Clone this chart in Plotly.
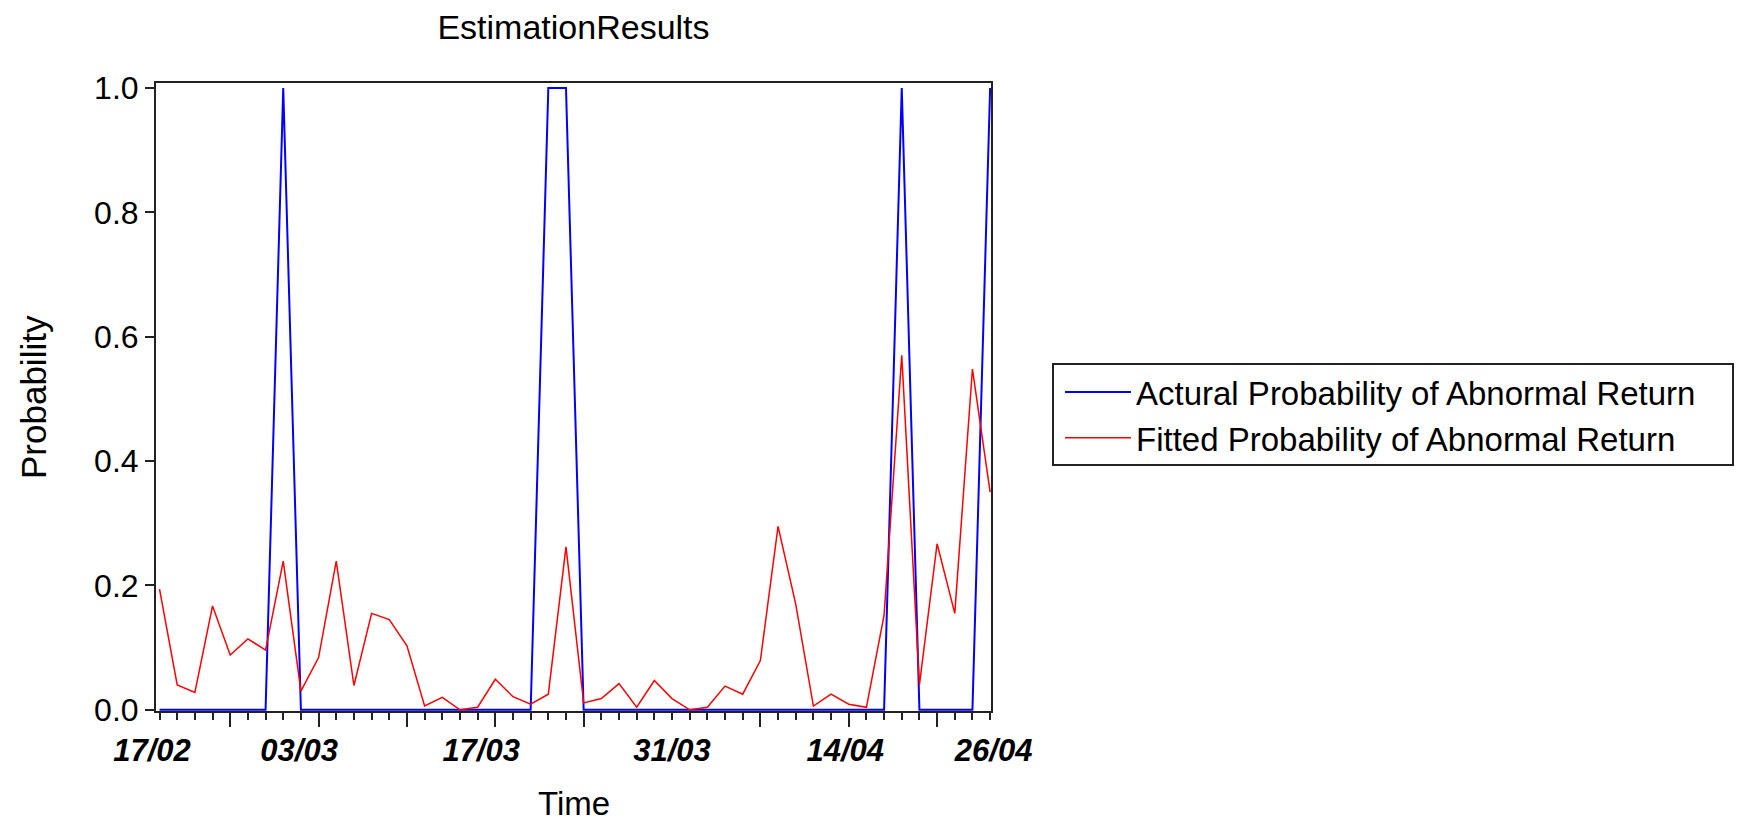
import plotly.graph_objects as go

# ---- data ----
obs = list(range(48))
actual = [0, 0, 0, 0, 0, 0, 0, 1, 0, 0,
          0, 0, 0, 0, 0, 0, 0, 0, 0, 0,
          0, 0, 1, 1, 0, 0, 0, 0, 0, 0,
          0, 0, 0, 0, 0, 0, 0, 0, 0, 0,
          0, 0, 1, 0, 0, 0, 0, 1]
fitted = [0.194, 0.040, 0.028, 0.167, 0.088, 0.114, 0.096, 0.239, 0.030, 0.084,
          0.239, 0.039, 0.155, 0.145, 0.103, 0.006, 0.020, 0.000, 0.004, 0.049,
          0.021, 0.009, 0.025, 0.262, 0.011, 0.018, 0.042, 0.004, 0.047, 0.018,
          0.000, 0.004, 0.038, 0.025, 0.079, 0.295, 0.170, 0.006, 0.025, 0.009,
          0.004, 0.152, 0.570, 0.040, 0.267, 0.155, 0.548, 0.350]
date_labels = ["17/02", "03/03", "17/03", "31/03", "14/04", "26/04"]
label_pos = [-0.43, 7.9, 18.2, 29.0, 38.8, 47.2]
major_ticks = [4, 9, 14, 19, 24, 34, 39, 44]
y_ticks = [0.0, 0.2, 0.4, 0.6, 0.8, 1.0]

FONT = "Liberation Sans, Arial, sans-serif"
W, H = 1747, 824
# plot frame in pixels
FL, FR, FT, FB = 156, 991, 83, 711
# wider paper area (for labels that sit outside the frame)
PL, PR = 100, 1050
xr = [-0.2, 47.05]
scale = (xr[1] - xr[0]) / (FR - FL)
xr_wide = [xr[0] - (FL - PL) * scale, xr[1] + (PR - FR) * scale]
# legend box in pixels
LB_L, LB_R, LB_T, LB_B = 1053, 1733, 364, 465


def px_x(p):
    return (p - PL) / (PR - PL)


def px_y(p):
    return (FB - p) / (FB - FT)


fig = go.Figure()
fig.add_trace(go.Scatter(x=obs, y=actual, mode="lines",
                         line=dict(color="#0000FF", width=2),
                         name="Actural Probability of Abnormal Return"))
fig.add_trace(go.Scatter(x=obs, y=fitted, mode="lines",
                         line=dict(color="#FF0000", width=1.5),
                         name="Fitted Probability of Abnormal Return"))
# invisible trace carrying the date-label axis
fig.add_trace(go.Scatter(x=obs, y=fitted, mode="lines", xaxis="x2", yaxis="y",
                         line=dict(color="rgba(0,0,0,0)", width=0),
                         showlegend=False, hoverinfo="skip"))

fig.update_layout(
    width=W, height=H,
    margin=dict(l=PL, r=W - PR, t=FT, b=H - FB, pad=0),
    paper_bgcolor="white", plot_bgcolor="rgba(0,0,0,0)",
    font=dict(family=FONT, color="black"),
    title=dict(text="EstimationResults", x=px_x((FL + FR) / 2), xref="paper",
               xanchor="center", y=1 - 27 / H, yref="container",
               yanchor="middle",
               font=dict(family=FONT, size=34, color="black")),
    xaxis=dict(range=xr, domain=[px_x(FL), px_x(FR)], anchor="y",
               showgrid=False, zeroline=False,
               showline=True, mirror=True, linecolor="#222222", linewidth=2,
               tickmode="array", tickvals=major_ticks, ticks="outside",
               ticklen=14, tickwidth=2, tickcolor="#222222",
               showticklabels=False,
               minor=dict(ticks="outside", ticklen=7, tickwidth=2,
                          tickcolor="#222222", tickmode="array", tickvals=obs)),
    xaxis2=dict(range=xr_wide, domain=[0, 1], anchor="y",
                showgrid=False, zeroline=False, showline=False,
                tickmode="array", tickvals=label_pos, ticktext=date_labels,
                ticks="", ticklabelstandoff=18,
                tickfont=dict(family=FONT, size=31, color="black",
                              style="italic", weight="bold")),
    yaxis=dict(range=[-0.002, 1.008], anchor="x", showgrid=False,
               zeroline=False,
               showline=True, mirror=True, linecolor="#222222", linewidth=2,
               tickmode="array", tickvals=y_ticks, tickformat=".1f",
               ticks="outside", ticklen=9, tickwidth=2, tickcolor="#222222",
               ticklabelstandoff=0,
               tickfont=dict(family=FONT, size=32, color="black")),
    legend=dict(x=px_x(LB_L + 7), y=px_y(LB_T),
                xanchor="left", yanchor="top",
                borderwidth=0, bgcolor="rgba(0,0,0,0)",
                font=dict(family=FONT, size=33, color="black"),
                itemwidth=66, tracegroupgap=0),
    shapes=[
        dict(type="rect", xref="paper", yref="paper",
             x0=px_x(LB_L), x1=px_x(LB_R), y0=px_y(LB_B), y1=px_y(LB_T),
             line=dict(color="#222222", width=2), fillcolor="white",
             layer="below"),
    ],
    annotations=[
        dict(text="Probability", xref="paper", yref="paper",
             x=px_x(33), y=0.5, xanchor="center", yanchor="middle",
             textangle=-90, showarrow=False,
             font=dict(family=FONT, size=35, color="black")),
        dict(text="Time", xref="paper", yref="paper",
             x=px_x((FL + FR) / 2), y=px_y(803), xanchor="center",
             yanchor="middle", showarrow=False,
             font=dict(family=FONT, size=33, color="black")),
    ],
    showlegend=True,
)

fig.write_html("out.html", config={"displayModeBar": False},
               post_script="document.body.style.margin='0px';")
